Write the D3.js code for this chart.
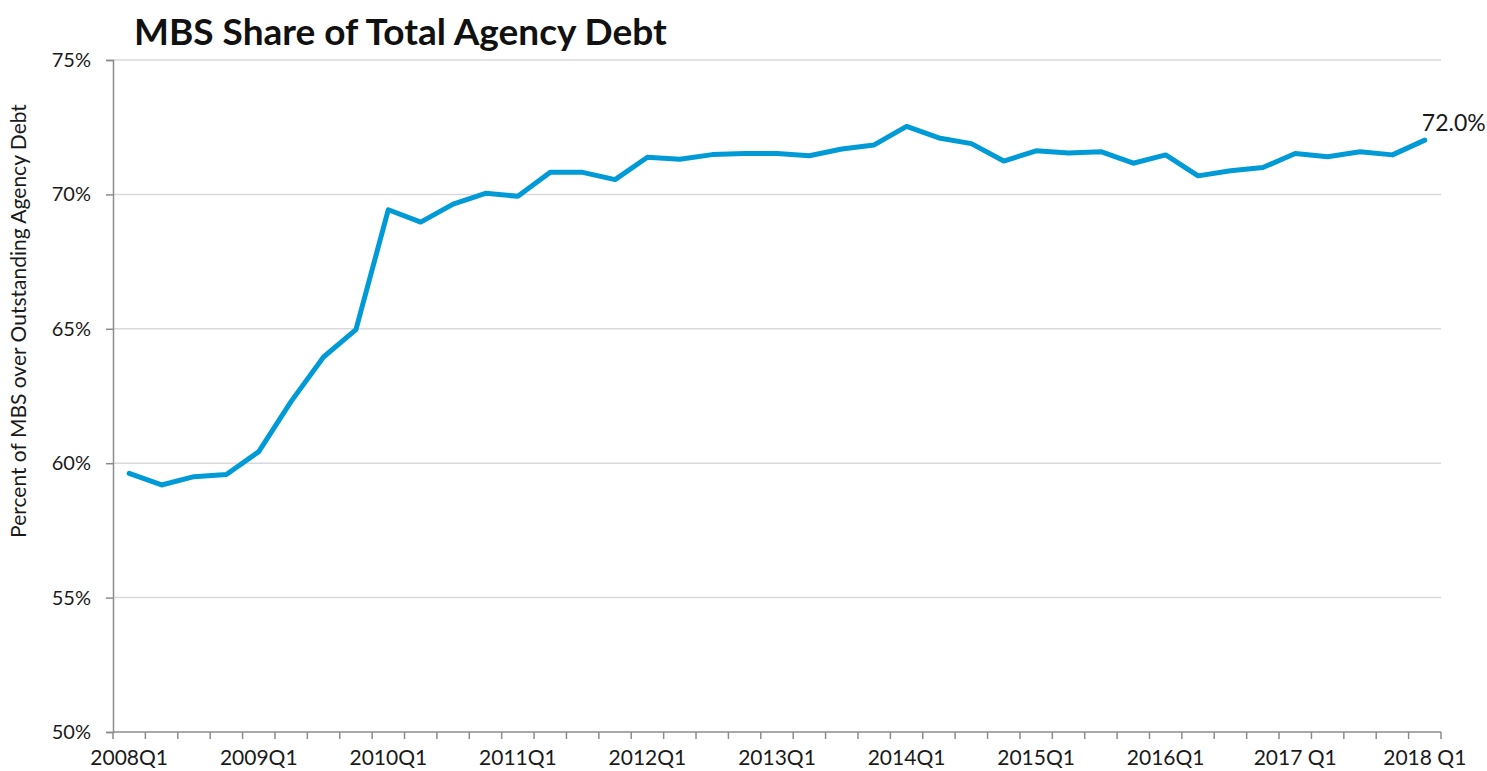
<!DOCTYPE html>
<html>
<head>
<meta charset="utf-8">
<script src="https://cdn.jsdelivr.net/npm/d3@7"></script>
<style>
  html, body { margin: 0; padding: 0; background: #fff; }
  svg { display: block; font-family: Lato, "Open Sans", sans-serif; }
</style>
</head>
<body>
<svg id="chart" width="1487" height="771"></svg>
<script>
// Quarterly categories, 2008Q1 through 2018Q1
const quarters = [];
for (let yr = 2008; yr <= 2018; yr++) {
  for (let q = 1; q <= 4; q++) {
    if (yr === 2018 && q > 1) break;
    quarters.push(yr + "Q" + q);
  }
}

// MBS as a percent of outstanding agency debt
const mbsShare = [
  59.62, 59.19, 59.50, 59.58, 60.43, 62.30, 63.95, 64.97,
  69.43, 68.97, 69.64, 70.04, 69.93, 70.82, 70.82, 70.55,
  71.38, 71.31, 71.48, 71.52, 71.52, 71.44, 71.69, 71.84,
  72.53, 72.10, 71.89, 71.24, 71.62, 71.54, 71.59, 71.16,
  71.47, 70.69, 70.88, 71.00, 71.52, 71.40, 71.59, 71.47,
  72.02
];

// Year labels shown on the x axis (one per Q1)
const xTickLabels = {
  "2008Q1": "2008Q1", "2009Q1": "2009Q1", "2010Q1": "2010Q1", "2011Q1": "2011Q1",
  "2012Q1": "2012Q1", "2013Q1": "2013Q1", "2014Q1": "2014Q1", "2015Q1": "2015Q1",
  "2016Q1": "2016Q1", "2017Q1": "2017 Q1", "2018Q1": "2018 Q1"
};
const yTicks = [50, 55, 60, 65, 70, 75];

const svg = d3.select("#chart");
const plotLeft = 113, plotRight = 1441, plotTop = 60, plotBottom = 732;

const x = d3.scaleBand().domain(quarters).range([plotLeft, plotRight]).padding(0);
const y = d3.scaleLinear().domain([50, 75]).range([plotBottom, plotTop]);

// Horizontal gridlines
svg.append("g")
  .selectAll("line")
  .data(yTicks.filter(v => v > 50))
  .join("line")
  .attr("x1", plotLeft).attr("x2", plotRight)
  .attr("y1", d => y(d)).attr("y2", d => y(d))
  .attr("stroke", "#d9d9d9").attr("stroke-width", 1.5);

// Y axis
const yAxis = svg.append("g")
  .attr("transform", `translate(${plotLeft},0)`)
  .call(d3.axisLeft(y).tickValues(yTicks).tickFormat(d => d + "%").tickSize(7).tickPadding(15));
yAxis.select(".domain").attr("stroke", "#8c8c8c").attr("stroke-width", 1.5);
yAxis.selectAll(".tick line").attr("stroke", "#8c8c8c").attr("stroke-width", 1.5);
yAxis.selectAll("text")
  .attr("font-size", 20).attr("fill", "#1a1a1a").attr("font-family", "Lato, sans-serif");

// X axis line and quarter tick marks at band edges
const xg = svg.append("g");
xg.append("line")
  .attr("x1", plotLeft).attr("x2", plotRight)
  .attr("y1", plotBottom).attr("y2", plotBottom)
  .attr("stroke", "#8c8c8c").attr("stroke-width", 1.5);
const edges = quarters.map(q => x(q)).concat([x.range()[1]]);
xg.selectAll("line.qt")
  .data(edges)
  .join("line")
  .attr("class", "qt")
  .attr("x1", d => d).attr("x2", d => d)
  .attr("y1", plotBottom).attr("y2", plotBottom + 7)
  .attr("stroke", "#8c8c8c").attr("stroke-width", 1.5);

// Year labels centered in their quarter band
xg.selectAll("text")
  .data(Object.keys(xTickLabels))
  .join("text")
  .attr("x", d => x(d) + x.bandwidth() / 2)
  .attr("y", plotBottom + 33)
  .attr("text-anchor", "middle")
  .attr("font-size", 21)
  .attr("fill", "#1a1a1a")
  .text(d => xTickLabels[d]);

// Series line
const line = d3.line()
  .x((d, i) => x(quarters[i]) + x.bandwidth() / 2)
  .y(d => y(d));
svg.append("path")
  .datum(mbsShare)
  .attr("d", line)
  .attr("fill", "none")
  .attr("stroke", "#009bd6")
  .attr("stroke-width", 5)
  .attr("stroke-linejoin", "round")
  .attr("stroke-linecap", "round");

// Last-value label
const lastIdx = mbsShare.length - 1;
svg.append("text")
  .attr("x", x(quarters[lastIdx]) + x.bandwidth() / 2 - 3)
  .attr("y", y(mbsShare[lastIdx]) - 9)
  .attr("font-size", 23)
  .attr("fill", "#1a1a1a")
  .text(mbsShare[lastIdx].toFixed(1) + "%");

// Title
svg.append("text")
  .attr("x", 134).attr("y", 45)
  .attr("font-size", 37)
  .attr("font-weight", "bold")
  .attr("fill", "#111")
  .text("MBS Share of Total Agency Debt");

// Y axis title
svg.append("text")
  .attr("transform", `translate(26,321) rotate(-90)`)
  .attr("text-anchor", "middle")
  .attr("font-size", 21)
  .attr("fill", "#1a1a1a")
  .text("Percent of MBS over Outstanding Agency Debt");
</script>
</body>
</html>
